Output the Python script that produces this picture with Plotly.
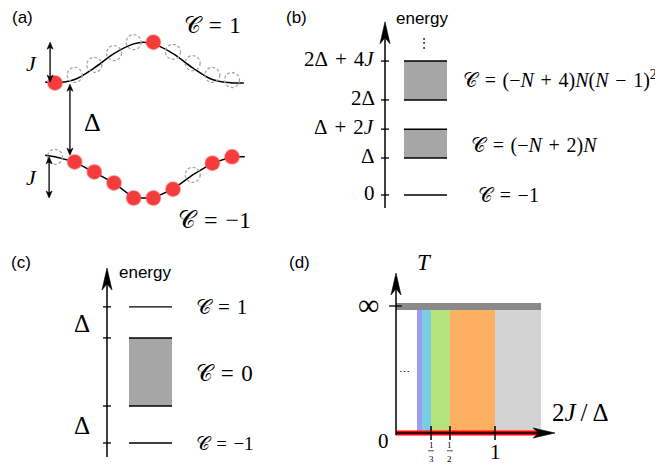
import math
import plotly.graph_objects as go

W, H = 663, 465
OFF = 8  # the page body adds an 8 px margin around the figure

# ---------------- data ----------------
# (a) ten sites of the chain, energies in units of J measured from the top of the lower band
A_SITES = [0, 1, 2, 3, 4, 5, 6, 7, 8, 9]
A_UP_LINE_X = [-0.5, 0, 1, 2, 3, 4, 4.5, 5, 6, 7, 8, 9, 9.6]
A_UP_LINE_E = [1.76, 1.74, 1.82, 2.10, 2.44, 2.67, 2.71, 2.67, 2.44, 2.10, 1.82, 1.74, 1.74]
A_UP_SITE_E = [1.74, 1.93, 2.17, 2.45, 2.71, 2.71, 2.48, 2.21, 1.93, 1.81]
A_UP_OCC = [1, 0, 0, 0, 0, 1, 0, 0, 0, 0]
A_LO_SITE_E = [-0.02, -0.14, -0.38, -0.64, -1.0, -1.0, -0.79, -0.45, -0.17, -0.02]
A_LO_OCC = [0, 1, 1, 1, 1, 1, 1, 0, 1, 1]
A_LO_END_X = [-0.5, 9.65]
A_LO_END_E = [0.02, -0.02]
A_ARROW_X = [-0.25, 0.76, -0.3]
A_ARROW_FROM = [1.76, 1.71, -0.02]
A_ARROW_TO = [2.71, 0.02, -1.0]
A_ARROW_LABELS = ["<i>J</i>", "Δ", "<i>J</i>"]

# (b) energy ladder (schematic heights, Δ units)
B_TICKS = [0, 1.0, 1.78, 2.57, 3.62]
B_TICK_LABELS = ["0", "Δ", "Δ + 2<i>J</i>", "2Δ", "2Δ + 4<i>J</i>"]
B_BAND_LO = [1.0, 2.57]
B_BAND_HI = [1.78, 3.62]
B_LEVEL = [0]
B_C_Y = [0, 1.35, 3.11]
B_C_LABELS = ["𝒞 = −1", "𝒞 = (−<i>N</i> + 2)<i>N</i>",
              "𝒞 = (−<i>N</i> + 4)<i>N</i>(<i>N</i> − 1)<sup>2</sup>"]

# (c) energy ladder (schematic heights, Δ units)
C_TICKS = [0, 1.0, 2.84, 3.68]
C_LEVELS = [0, 3.68]
C_BAND_LO = [1.0]
C_BAND_HI = [2.84]
C_C_Y = [0, 1.89, 3.68]
C_C_LABELS = ["𝒞 = −1", "𝒞 = 0", "𝒞 = 1"]

# (d) phase diagram, x = 2J/Δ (schematic), y = T (∞ at 1)
D_EDGES = [0.212, 0.263, 0.354, 0.545, 1.0, 1.465]
D_COLORS = ["#9c9cf4", "#7bcee2", "#b6e27b", "#fdb061", "#d3d3d3"]
D_TICKS = [0.354, 0.545, 1.0]
D_TICK_NUM = ["1", "1", "1"]
D_TICK_DEN = ["3", "2", ""]
D_TOP = 0.969
D_INF = 1.0

SERIF = "Liberation Serif, DejaVu Serif, serif"
SANS = "Liberation Sans, Arial, sans-serif"


def m(s):
    """LaTeX-like spacing around relations and binary operators."""
    for op in ["=", "+", "−"]:
        s = s.replace(" " + op + " ", "\u2004" + op + "\u2004")
    return s


class Panel:
    def __init__(self, idx, x0, sx, y0, sy):
        self.idx = idx
        s = "" if idx == 1 else str(idx)
        self.xr, self.yr = "x" + s, "y" + s
        self.x0, self.sx, self.y0, self.sy = x0 - OFF, sx, y0 - OFF, sy

    def px(self, x, y):
        return self.x0 + self.sx * x, self.y0 - self.sy * y

    def val(self, X, Y):
        return (X - self.x0) / self.sx, (self.y0 - Y) / self.sy

    def axes(self):
        xr = [(0 - self.x0) / self.sx, (W - self.x0) / self.sx]
        yr = [(self.y0 - H) / self.sy, self.y0 / self.sy]
        return xr, yr


PA = Panel(1, 55, 19.67, 156, 42)
PB = Panel(2, 385, 1, 195, 37)
PC = Panel(3, 107, 1, 443, 37)
PD = Panel(4, 396, 99, 433, 127)
PANELS = [PA, PB, PC, PD]

fig = go.Figure()
shapes = []
annos = []


def line(p, x0, y0, x1, y1, color="black", width=1.4, dash=None):
    d = dict(type="line", xref=p.xr, yref=p.yr, x0=x0, y0=y0, x1=x1, y1=y1,
             line=dict(color=color, width=width))
    if dash:
        d["line"]["dash"] = dash
    shapes.append(d)


def rect(p, x0, y0, x1, y1, fill):
    shapes.append(dict(type="rect", xref=p.xr, yref=p.yr, x0=x0, y0=y0, x1=x1, y1=y1,
                       fillcolor=fill, line=dict(width=0)))


def arrow(p, x0, y0, x1, y1, L, hw, both=False, lw=1.4, color="black"):
    P0, P1 = p.px(x0, y0), p.px(x1, y1)
    dx, dy = P1[0] - P0[0], P1[1] - P0[1]
    d = math.hypot(dx, dy)
    ux, uy = dx / d, dy / d
    nx, ny = -uy, ux
    s = (P0[0] + ux * L * 0.6, P0[1] + uy * L * 0.6) if both else P0
    e = (P1[0] - ux * L * 0.6, P1[1] - uy * L * 0.6)
    a, b = p.val(*s)
    c, f = p.val(*e)
    line(p, a, b, c, f, color=color, width=lw)

    def head(T, ux, uy):
        pts = [T,
               (T[0] - ux * L + nx * hw, T[1] - uy * L + ny * hw),
               (T[0] - ux * L * 0.72, T[1] - uy * L * 0.72),
               (T[0] - ux * L - nx * hw, T[1] - uy * L - ny * hw)]
        vv = [p.val(*q) for q in pts]
        path = "M " + " L ".join(f"{v[0]:.5f},{v[1]:.5f}" for v in vv) + " Z"
        shapes.append(dict(type="path", xref=p.xr, yref=p.yr, path=path,
                           fillcolor=color, line=dict(color=color, width=0.6)))

    head(P1, ux, uy)
    if both:
        head(P0, -ux, -uy)


def text(p, x, y, s, size, family=SERIF, xanchor="center", yanchor="middle", color="black"):
    annos.append(dict(xref=p.xr, yref=p.yr, x=x, y=y, text=m(s), showarrow=False,
                      xanchor=xanchor, yanchor=yanchor, borderpad=0,
                      font=dict(size=size, family=family, color=color)))


def paper_text(X, Y, s, size, family=SANS):
    annos.append(dict(xref="paper", yref="paper", x=(X - OFF) / W, y=1 - (Y - OFF) / H, text=s,
                      showarrow=False, xanchor="center", yanchor="middle", borderpad=0,
                      font=dict(size=size, family=family, color="black")))


# ---------------- panel (a) ----------------
fig.add_trace(go.Scatter(x=A_UP_LINE_X, y=A_UP_LINE_E, mode="lines",
                         line=dict(color="black", width=1.5, shape="spline"),
                         xaxis=PA.xr, yaxis=PA.yr, hoverinfo="skip"))
fig.add_trace(go.Scatter(x=[A_LO_END_X[0]] + A_SITES + [A_LO_END_X[1]],
                         y=[A_LO_END_E[0]] + A_LO_SITE_E + [A_LO_END_E[1]],
                         mode="lines", line=dict(color="black", width=1.5),
                         xaxis=PA.xr, yaxis=PA.yr, hoverinfo="skip"))
r = 7.5
for xs, es, occ in [(A_SITES, A_UP_SITE_E, A_UP_OCC), (A_SITES, A_LO_SITE_E, A_LO_OCC)]:
    for x, e, o in zip(xs, es, occ):
        if not o:
            X, Y = PA.px(x, e)
            a0, b0 = PA.val(X - r, Y + r)
            a1, b1 = PA.val(X + r, Y - r)
            shapes.append(dict(type="circle", xref=PA.xr, yref=PA.yr, x0=a0, y0=b0, x1=a1, y1=b1,
                               line=dict(color="#a8a8a8", width=1.3, dash="3px,2px")))
    fig.add_trace(go.Scatter(x=[x for x, o in zip(xs, occ) if o], y=[e for e, o in zip(es, occ) if o],
                             mode="markers", marker=dict(size=14.5, color="#f43c3c",
                                                         line=dict(color="rgba(255,90,90,0.5)", width=1.5)),
                             xaxis=PA.xr, yaxis=PA.yr, hoverinfo="skip"))
for x, e0, e1 in zip(A_ARROW_X, A_ARROW_FROM, A_ARROW_TO):
    arrow(PA, x, e0, x, e1, 7, 3, both=True, lw=1.3)
text(PA, -1.17, 2.21, A_ARROW_LABELS[0], 22)
text(PA, 1.93, 0.79, A_ARROW_LABELS[1], 26)
text(PA, -1.17, -0.52, A_ARROW_LABELS[2], 22)
text(PA, 6.5, 3.10, "𝒞 = 1", 23, xanchor="left")
text(PA, 6.2, -1.52, "𝒞 = −1", 24, xanchor="left")
paper_text(22, 18, "(a)", 17)

# ---------------- panel (b) ----------------
arrow(PB, 0, -0.35, 0, 4.68, 22, 5, lw=1.5)
for t, lab in zip(B_TICKS, B_TICK_LABELS):
    line(PB, -4, t, 4, t, width=1.3)
    text(PB, -9, t + 0.06, lab, 21, xanchor="right")
for lo, hi in zip(B_BAND_LO, B_BAND_HI):
    rect(PB, 19, lo, 62, hi, "#a6a6a6")
    line(PB, 19, lo, 62, lo, width=1.5)
    line(PB, 19, hi, 62, hi, width=1.5)
for lv in B_LEVEL:
    line(PB, 19, lv, 62, lv, width=1.3)
for yv, lab, xl in zip(B_C_Y, B_C_LABELS, [92, 85, 77]):
    text(PB, xl, yv, lab, 20, xanchor="left")
text(PB, 37, (195 - 18) / 37, "energy", 17, family=SANS)
text(PB, 39, 4.1, "⋮", 12)
paper_text(296, 18, "(b)", 17)

# ---------------- panel (c) ----------------
arrow(PC, 0, -0.38, 0, 4.73, 22, 5, lw=1.5)
for t in C_TICKS:
    line(PC, -4, t, 4, t, width=1.3)
for lo, hi in zip(C_BAND_LO, C_BAND_HI):
    rect(PC, 22, lo, 65, hi, "#a6a6a6")
    line(PC, 22, lo, 65, lo, width=1.5)
    line(PC, 22, hi, 65, hi, width=1.5)
for lv in C_LEVELS:
    line(PC, 22, lv, 65, lv, width=1.3)
text(PC, -25, (C_TICKS[2] + C_TICKS[3]) / 2 - 0.04, "Δ", 25)
text(PC, -25, (C_TICKS[0] + C_TICKS[1]) / 2 - 0.04, "Δ", 25)
for yv, lab, sz in zip(C_C_Y, C_C_LABELS, [19, 23, 21]):
    text(PC, 88, yv, lab, sz, xanchor="left")
text(PC, 38, 4.62, "energy", 17, family=SANS)
paper_text(21, 262, "(c)", 17)

# ---------------- panel (d) ----------------
for x0, x1, col in zip(D_EDGES[:-1], D_EDGES[1:], D_COLORS):
    rect(PD, x0, 0, x1, D_TOP, col)
rect(PD, 0, D_TOP, D_EDGES[-1], 1.024, "#8a8a8a")
line(PD, 0, 0, 1.475, 0, color="#ff0000", width=5)
arrow(PD, 0, 0, 1.606, 0, 22, 5, lw=1.5)
arrow(PD, 0, -0.016, 0, 1.26, 22, 5, lw=1.5)
line(PD, -0.07, D_INF, 0.06, D_INF, width=1.3)
for t, nu, de in zip(D_TICKS, D_TICK_NUM, D_TICK_DEN):
    line(PD, t, -0.055, t, 0.055, width=1.5)
    if de:
        text(PD, t, -0.094, nu, 9)
        line(PD, t - 0.03, -0.14, t + 0.03, -0.14, width=0.7)
        text(PD, t, -0.205, de, 9)
    else:
        text(PD, t, -0.15, nu, 21)
text(PD, -0.28, 1.008, "∞", 30)
text(PD, -0.13, -0.06, "0", 21)
text(PD, 0.29, 1.34, "<i>T</i>", 23)
text(PD, 1.86, 0.165, "2<i>J</i>\u2009/\u2009Δ", 25)
text(PD, 0.09, 0.48, "⋯", 11)
paper_text(299, 262, "(d)", 17)

# ---------------- layout ----------------
lay = dict(width=W, height=H, margin=dict(l=0, r=0, t=0, b=0), showlegend=False,
           paper_bgcolor="white", plot_bgcolor="rgba(0,0,0,0)", shapes=shapes, annotations=annos)
for p in PANELS:
    xr, yr = p.axes()
    s = "" if p.idx == 1 else str(p.idx)
    ax = dict(range=xr, visible=False, fixedrange=True, domain=[0, 1], anchor="y" + s)
    ay = dict(range=yr, visible=False, fixedrange=True, domain=[0, 1], anchor="x" + s)
    if p.idx > 1:
        ax["overlaying"] = "x"
        ay["overlaying"] = "y"
    lay["xaxis" + s] = ax
    lay["yaxis" + s] = ay
fig.update_layout(**lay)
fig.write_html("out.html")
